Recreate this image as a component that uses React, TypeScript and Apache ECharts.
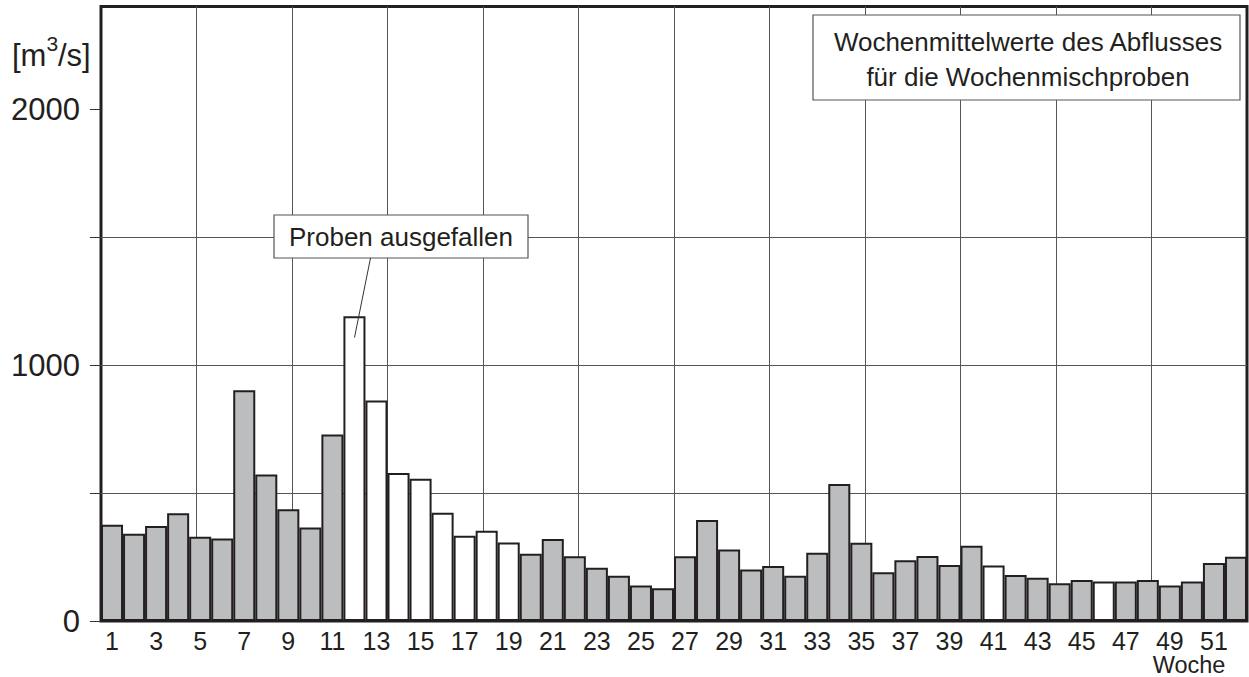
import React, { useEffect, useRef } from "react";
import * as echarts from "echarts";

const weeks: number[] = Array.from({ length: 52 }, (_, i) => i + 1);
const flows: number[] = [
  376, 341, 371, 421, 329, 322, 901, 572, 437, 365,
  729, 1190, 861, 578, 556, 423, 333, 353, 307, 263,
  320, 253, 208, 177, 139, 128, 253, 395, 279, 201,
  215, 177, 267, 535, 306, 190, 237, 254, 219, 294,
  217, 180, 169, 147, 160, 154, 154, 160, 139, 154,
  227, 251,
];
const missingWeeks: number[] = [12, 13, 14, 15, 16, 17, 18, 19, 41, 46];
const yLabels: number[] = [0, 1000, 2000];
const yTicks: number[] = [0, 500, 1000, 1500, 2000];

const FONT = "'Liberation Sans', Arial, Helvetica, sans-serif";
const INK = "#231f20";

export default function App() {
  const ref = useRef<HTMLDivElement>(null);
  useEffect(() => {
    if (!ref.current) return;
    const chart = echarts.init(ref.current, null, { renderer: "svg" });
    const data = weeks.map((w, i) => ({
      value: flows[i],
      itemStyle: { color: missingWeeks.includes(w) ? "#ffffff" : "#bcbdbf" },
    }));
    chart.setOption({
      animation: false,
      backgroundColor: "#ffffff",
      textStyle: { fontFamily: FONT },
      grid: {
        left: 101,
        top: 6.6,
        right: 2,
        bottom: 56,
        show: true,
        borderColor: INK,
        borderWidth: 3,
        backgroundColor: "transparent",
      },
      xAxis: [
        {
          type: "category",
          data: weeks.map(String),
          boundaryGap: true,
          axisLine: { show: false },
          axisTick: { show: false },
          splitLine: { show: false },
          axisLabel: {
            interval: 1,
            fontSize: 25,
            lineHeight: 20,
            color: INK,
            fontFamily: FONT,
            margin: 10,
          },
        },
        {
          type: "value",
          min: 0,
          max: 12,
          interval: 1,
          position: "top",
          axisLine: { show: false },
          axisTick: { show: false },
          axisLabel: { show: false },
          splitLine: {
            show: true,
            showMinLine: false,
            showMaxLine: false,
            lineStyle: { color: "#555", width: 1 },
          },
        },
      ],
      yAxis: {
        type: "value",
        min: 0,
        max: 2400,
        interval: 500,
        axisLine: { show: false },
        axisTick: {
          show: true,
          length: 11,
          inside: false,
          customValues: yTicks,
          lineStyle: { color: "#333", width: 1 },
        },
        splitLine: {
          show: true,
          showMinLine: false,
          showMaxLine: false,
          lineStyle: { color: "#555", width: 1 },
        },
        axisLabel: {
          customValues: yLabels,
          formatter: (v: number) => String(v),
          fontSize: 31,
          color: INK,
          fontFamily: FONT,
          margin: 21,
        },
      },
      series: [
        {
          type: "bar",
          xAxisIndex: 0,
          yAxisIndex: 0,
          data,
          barWidth: "100%",
          barCategoryGap: "0%",
          itemStyle: { borderColor: INK, borderWidth: 2 },
          z: 3,
        },
      ],
      graphic: [
        { type: "text", x: 12, y: 40, z: 10, style: { text: "[m", fontSize: 31, fontFamily: FONT, fill: INK, textVerticalAlign: "alphabetic" } },
        { type: "text", x: 46.4, y: 32.5, z: 10, style: { text: "3", fontSize: 21, fontFamily: FONT, fill: INK, textVerticalAlign: "alphabetic" } },
        { type: "text", x: 58, y: 40, z: 10, style: { text: "/s]", fontSize: 31, fontFamily: FONT, fill: INK, textVerticalAlign: "alphabetic" } },
        {
          type: "rect",
          z: 10,
          shape: { x: 813, y: 15, width: 427, height: 85 },
          style: { fill: "#ffffff", stroke: "#555", lineWidth: 1.2 },
        },
        { type: "text", x: 1028, y: 42, z: 11, style: { text: "Wochenmittelwerte des Abflusses", fontSize: 26, fontFamily: FONT, fill: INK, textAlign: "center", textVerticalAlign: "middle" } },
        { type: "text", x: 1028, y: 77, z: 11, style: { text: "für die Wochenmischproben", fontSize: 26, fontFamily: FONT, fill: INK, textAlign: "center", textVerticalAlign: "middle" } },
        {
          type: "rect",
          z: 10,
          shape: { x: 274, y: 215, width: 254, height: 43 },
          style: { fill: "#ffffff", stroke: "#555", lineWidth: 1.2 },
        },
        { type: "text", x: 401, y: 237, z: 11, style: { text: "Proben ausgefallen", fontSize: 26, fontFamily: FONT, fill: INK, textAlign: "center", textVerticalAlign: "middle" } },
        {
          type: "line",
          z: 10,
          shape: { x1: 370.5, y1: 258, x2: 354.5, y2: 337.5 },
          style: { stroke: "#333", lineWidth: 1 },
        },
        { type: "text", x: 1189, y: 665, z: 10, style: { text: "Woche", fontSize: 23.5, lineHeight: 21, fontFamily: FONT, fill: INK, textAlign: "center", textVerticalAlign: "middle" } },
      ],
    });
    return () => chart.dispose();
  }, []);
  return (
    <div
      ref={ref}
      style={{ position: "fixed", left: 0, top: 0, width: 1249, height: 677, background: "#fff" }}
    />
  );
}
